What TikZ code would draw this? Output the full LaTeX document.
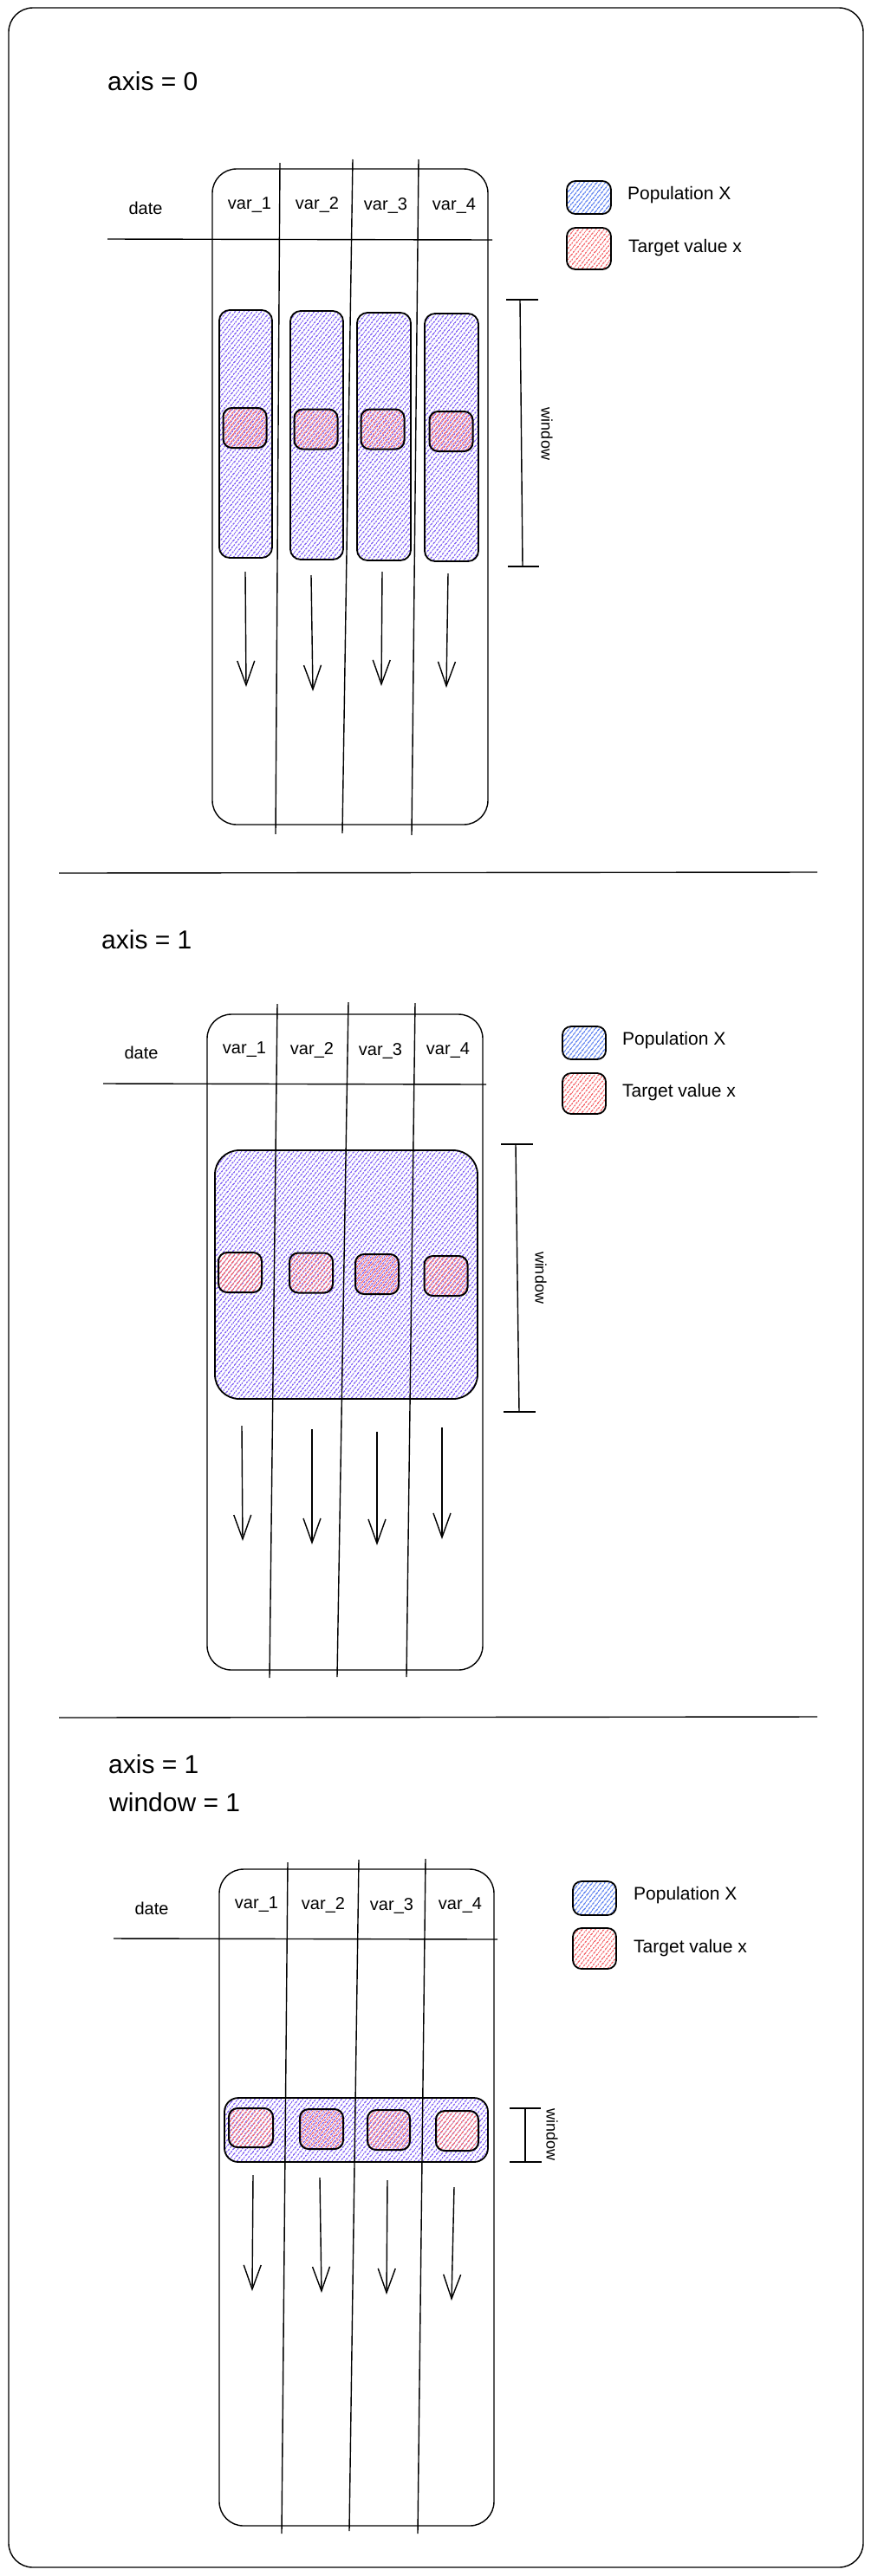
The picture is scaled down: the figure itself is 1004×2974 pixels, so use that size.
\documentclass[tikz,border=0pt]{standalone}
\usepackage{fontspec}
\setmainfont{Liberation Sans}
\usetikzlibrary{arrows.meta,patterns.meta}
\definecolor{hpurple}{RGB}{135,105,245}
\definecolor{hblue}{RGB}{100,135,240}
\definecolor{hred}{RGB}{245,110,115}
\tikzset{
  frame/.style={draw,line width=1.4pt,rounded corners=28pt},
  tbl/.style={draw,line width=1.4pt,rounded corners=28pt,inner sep=0pt,outer sep=0pt},
  rule/.style={line width=1.4pt},
  hatch/.style={pattern={Lines[angle=52,distance=4pt,line width=1.6pt]}},
  popfill/.style={draw,line width=1.8pt,inner sep=0pt,outer sep=0pt,hatch,pattern color=hpurple},
  bluefill/.style={draw,line width=1.8pt,inner sep=0pt,outer sep=0pt,rounded corners=10pt,
    hatch,pattern color=hblue},
  redfill/.style={draw,line width=1.8pt,inner sep=0pt,outer sep=0pt,rounded corners=10pt,
    hatch,pattern color=hred},
  tgtbox/.style={draw,line width=2pt,inner sep=0pt,outer sep=0pt,rounded corners=10pt,
    minimum width=50pt,minimum height=46pt,hatch,pattern color=hred},
  title/.style={anchor=west,inner sep=0pt,font=\fontsize{30}{34}\selectfont},
  lbl/.style={inner sep=0pt,font=\fontsize{20}{24}\selectfont},
  lgd/.style={anchor=west,inner sep=0pt,font=\fontsize{21}{24}\selectfont},
  wlbl/.style={inner sep=0pt,rotate=-90,font=\fontsize{18}{20}\selectfont},
  flow/.style={line width=1.4pt,-{Straight Barb[length=28pt,width=20pt]}},
  brk/.style={line width=1.4pt}
}
\begin{document}
\begin{tikzpicture}[x=1pt,y=-1pt]
\useasboundingbox (0,0) rectangle (1004,2974);
\draw[frame] (10,9) rectangle (996,2964);
% dividers
\coordinate (d1a) at (68,1008); \coordinate (d1b) at (943,1007);
\coordinate (d2a) at (68,1983); \coordinate (d2b) at (943,1982);
\draw[rule] (d1a) -- (d1b);
\draw[rule] (d2a) -- (d2b);

% ================= Section 1 =================
\node[title] (t1) at (124,94) {axis = 0};
\node[tbl,minimum width=318pt,minimum height=757pt] (tabA) at (404,573.5) {};
\draw[rule] (124,276) -- (568,277);
\draw[rule] (323,188) -- (318,963);
\draw[rule] (407,184) -- (395,962);
\draw[rule] (483,184) -- (475,964);
\node[lbl] (dateA) at (168,240) {date};
\node[lbl] (vA1) at (288,237) {var\_1};
\node[lbl] (vA2) at (366,237) {var\_2};
\node[lbl] (vA3) at (445,238) {var\_3};
\node[lbl] (vA4) at (524,238) {var\_4};
\node[popfill,rounded corners=12pt,minimum width=61pt,minimum height=286pt] (pA1) at (283.5,501) {};
\node[popfill,rounded corners=12pt,minimum width=61pt,minimum height=287pt] (pA2) at (365.5,502.5) {};
\node[popfill,rounded corners=12pt,minimum width=62pt,minimum height=286pt] (pA3) at (443,504) {};
\node[popfill,rounded corners=12pt,minimum width=62pt,minimum height=286pt] (pA4) at (521,505) {};
\node[tgtbox] (gA1) at (282.5,494) {};
\node[tgtbox] (gA2) at (364.5,495.5) {};
\node[tgtbox] (gA3) at (441.5,495.5) {};
\node[tgtbox] (gA4) at (520.5,498) {};
\coordinate (aA1s) at (283,660); \coordinate (aA1e) at (284,793);
\coordinate (aA2s) at (359,664); \coordinate (aA2e) at (361,798);
\coordinate (aA3s) at (441,660); \coordinate (aA3e) at (440,792);
\coordinate (aA4s) at (517,662); \coordinate (aA4e) at (515,794);
\draw[flow] (aA1s) -- (aA1e);
\draw[flow] (aA2s) -- (aA2e);
\draw[flow] (aA3s) -- (aA3e);
\draw[flow] (aA4s) -- (aA4e);
\coordinate (bA1) at (600,346); \coordinate (bA2) at (603,654);
\draw[brk] (bA1) -- (bA2);
\draw[brk] (584,346) -- (621,346);
\draw[brk] (586,654) -- (622,654);
\node[wlbl] (wA) at (631,501) {window};
\node[bluefill,minimum width=51pt,minimum height=38pt] (lbA) at (679.5,228) {};
\node[lgd] (ltA1) at (724,225) {Population X};
\node[redfill,minimum width=51pt,minimum height=48pt] (lrA) at (679.5,287) {};
\node[lgd] (ltA2) at (725,286) {Target value x};

% ================= Section 2 =================
\node[title] (t2) at (117,1085) {axis = 1};
\node[tbl,minimum width=318pt,minimum height=757pt] (tabB) at (398,1549.5) {};
\draw[rule] (119,1251) -- (561,1252);
\node[popfill,rounded corners=28pt,minimum width=303pt,minimum height=287pt] (pB) at (399.5,1471.5) {};
\draw[rule] (320,1159) -- (311,1937);
\draw[rule] (402,1157) -- (389,1936);
\draw[rule] (479,1158) -- (469,1936);
\node[lbl] (dateB) at (163,1215) {date};
\node[lbl] (vB1) at (282,1212) {var\_1};
\node[lbl] (vB2) at (360,1212) {var\_2};
\node[lbl] (vB3) at (439,1213) {var\_3};
\node[lbl] (vB4) at (517,1213) {var\_4};
\node[tgtbox] (gB1) at (277,1469) {};
\node[tgtbox] (gB2) at (359,1469.5) {};
\node[tgtbox] (gB3) at (435,1471) {};
\node[tgtbox] (gB4) at (514.5,1473) {};
\coordinate (aB1s) at (279,1646); \coordinate (aB1e) at (280,1779);
\coordinate (aB2s) at (360,1650); \coordinate (aB2e) at (360,1783);
\coordinate (aB3s) at (435,1653); \coordinate (aB3e) at (435,1784);
\coordinate (aB4s) at (510,1648); \coordinate (aB4e) at (510,1777);
\draw[flow] (aB1s) -- (aB1e);
\draw[flow] (aB2s) -- (aB2e);
\draw[flow] (aB3s) -- (aB3e);
\draw[flow] (aB4s) -- (aB4e);
\coordinate (bB1) at (595,1321); \coordinate (bB2) at (599,1630);
\draw[brk] (bB1) -- (bB2);
\draw[brk] (578,1321) -- (615,1321);
\draw[brk] (581,1630) -- (618,1630);
\node[wlbl] (wB) at (624,1475) {window};
\node[bluefill,minimum width=50pt,minimum height=38pt] (lbB) at (674,1204) {};
\node[lgd] (ltB1) at (718,1201) {Population X};
\node[redfill,minimum width=50pt,minimum height=47pt] (lrB) at (674,1262.5) {};
\node[lgd] (ltB2) at (718,1261) {Target value x};

% ================= Section 3 =================
\node[title] (t3a) at (125,2037) {axis = 1};
\node[title] (t3b) at (126,2081) {window = 1};
\node[tbl,minimum width=317pt,minimum height=758pt] (tabC) at (411.5,2537) {};
\draw[rule] (131,2238) -- (574,2239);
\node[popfill,rounded corners=16pt,minimum width=304pt,minimum height=74pt] (pC) at (411,2459) {};
\draw[rule] (332,2150) -- (325,2925);
\draw[rule] (414,2147) -- (403,2922);
\draw[rule] (491,2146) -- (482,2925);
\node[lbl] (dateC) at (175,2203) {date};
\node[lbl] (vC1) at (296,2199) {var\_1};
\node[lbl] (vC2) at (373,2199) {var\_2};
\node[lbl] (vC3) at (452,2200) {var\_3};
\node[lbl] (vC4) at (531,2200) {var\_4};
\node[tgtbox,minimum width=51pt,minimum height=45pt] (gC1) at (289.5,2456.5) {};
\node[tgtbox] (gC2) at (371,2458) {};
\node[tgtbox,minimum width=49pt] (gC3) at (448.5,2459) {};
\node[tgtbox,minimum width=49pt] (gC4) at (527.5,2460) {};
\coordinate (aC1s) at (292,2511); \coordinate (aC1e) at (291,2645);
\coordinate (aC2s) at (369,2514); \coordinate (aC2e) at (371,2647);
\coordinate (aC3s) at (447,2517); \coordinate (aC3e) at (446,2649);
\coordinate (aC4s) at (524,2525); \coordinate (aC4e) at (521,2656);
\draw[flow] (aC1s) -- (aC1e);
\draw[flow] (aC2s) -- (aC2e);
\draw[flow] (aC3s) -- (aC3e);
\draw[flow] (aC4s) -- (aC4e);
\coordinate (bC1) at (606,2434); \coordinate (bC2) at (606,2496);
\draw[brk] (bC1) -- (bC2);
\draw[brk] (588,2434) -- (624,2434);
\draw[brk] (588,2496) -- (625,2496);
\node[wlbl] (wC) at (637,2464) {window};
\node[bluefill,minimum width=50pt,minimum height=39pt] (lbC) at (686,2191.5) {};
\node[lgd] (ltC1) at (731,2188) {Population X};
\node[redfill,minimum width=50pt,minimum height=47pt] (lrC) at (686,2249.5) {};
\node[lgd] (ltC2) at (731,2249) {Target value x};
\end{tikzpicture}
\end{document}
